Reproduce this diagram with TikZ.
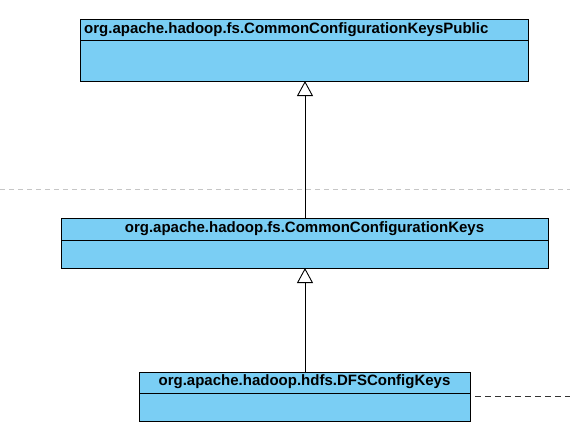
\documentclass[tikz,border=0pt]{standalone}
\usepackage{fontspec}
\setmainfont{Liberation Sans}
\usetikzlibrary{arrows.meta}
\definecolor{classfill}{RGB}{122,206,244}
\begin{document}
\begin{tikzpicture}[x=1pt,y=-1pt,
  classbox/.style={draw=black, fill=classfill, line width=0.9pt},
  inherit/.style={draw=black, line width=0.9pt, -{Triangle[open, length=15pt, width=16pt, fill=white]}},
  title/.style={font=\bfseries\fontsize{15}{18}\selectfont, inner sep=0pt}]
\useasboundingbox (0,0) rectangle (570,440);
\draw[gray!45, dashed, dash pattern=on 5pt off 4pt, line width=0.8pt] (0,189) -- (570,189);
% box 1
\draw[classbox] (80,19) rectangle (528,81);
\draw[line width=0.9pt] (80,40) -- (528,40);
\node[title, anchor=west] (t1) at (84,30) {org.apache.hadoop.fs.CommonConfigurationKeysPublic};
\coordinate (b1) at (305,81);
% box 2
\draw[classbox] (61,218) rectangle (548,268);
\draw[line width=0.9pt] (61,240) -- (548,240);
\node[title] (t2) at (304.5,229) {org.apache.hadoop.fs.CommonConfigurationKeys};
\coordinate (b2top) at (305,218);
\coordinate (b2) at (305,268);
% box 3
\draw[classbox] (139,372) rectangle (470,421);
\draw[line width=0.9pt] (139,393) -- (470,393);
\node[title] (t3) at (304.5,382) {org.apache.hadoop.hdfs.DFSConfigKeys};
\coordinate (b3top) at (305,372);
\coordinate (b3r) at (475,396);
\coordinate (edge) at (570,396);
% connectors
\draw[inherit] (b2top) -- (b1);
\draw[inherit] (b3top) -- (b2);
\draw[black!80, dashed, dash pattern=on 6pt off 4pt, line width=0.9pt] (b3r) -- (edge);
\end{tikzpicture}
\end{document}
